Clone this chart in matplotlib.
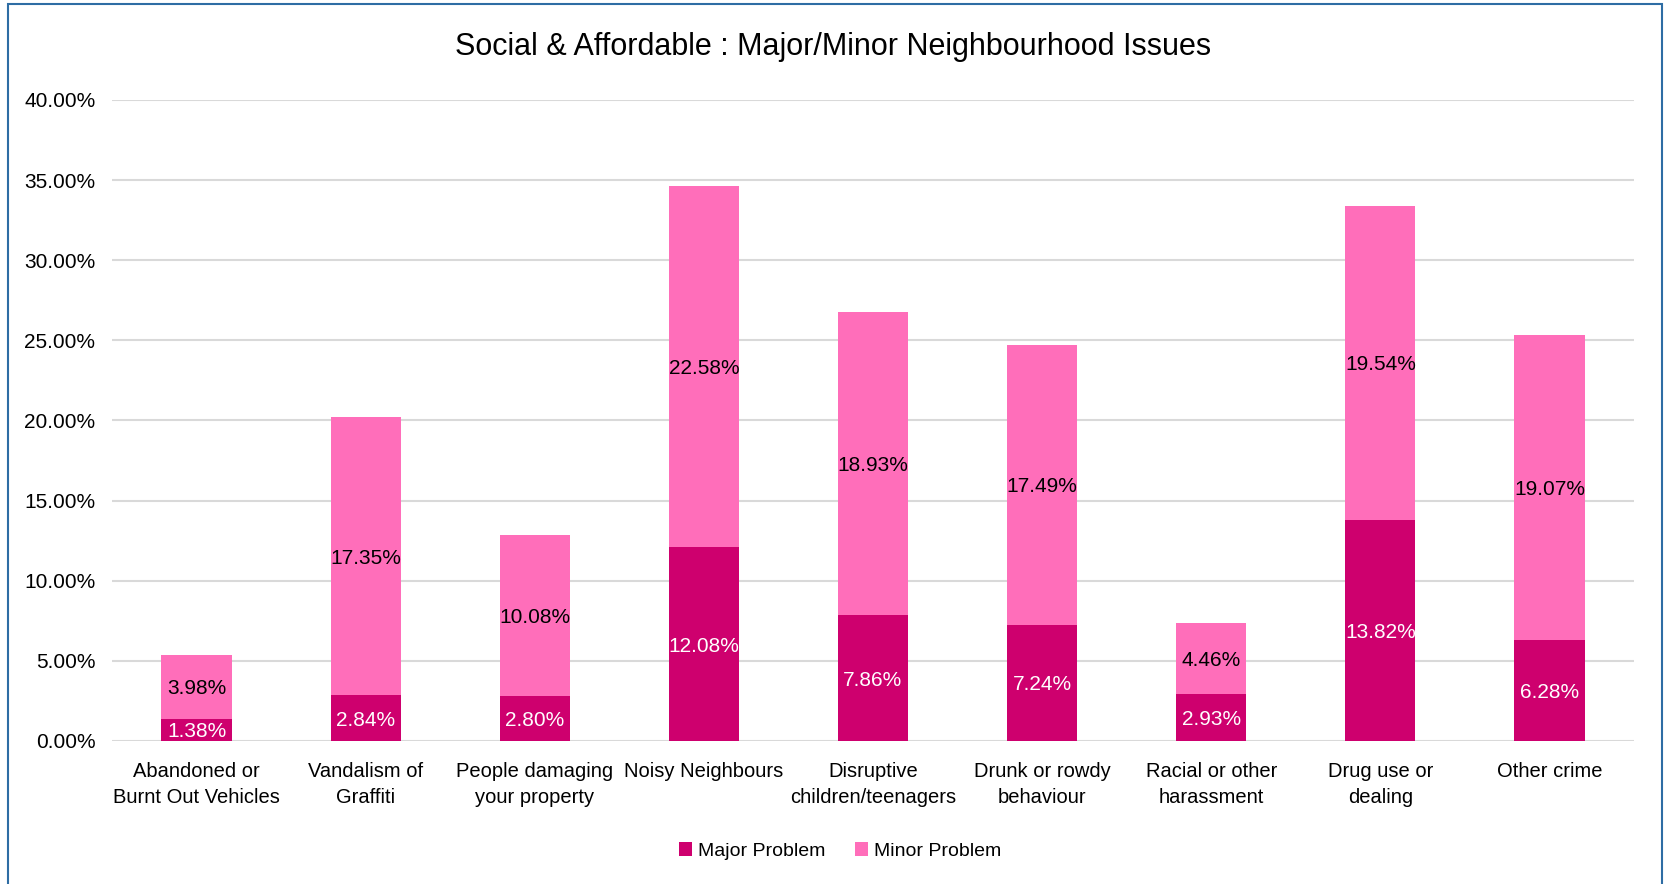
import matplotlib
matplotlib.use('Agg')
import matplotlib.pyplot as plt
from matplotlib.patches import Rectangle
from matplotlib.ticker import FuncFormatter
import numpy as np

plt.rcParams['font.family'] = ['Liberation Sans Narrow', 'Liberation Sans', 'DejaVu Sans']

categories = ['Abandoned or\nBurnt Out Vehicles', 'Vandalism of\nGraffiti',
              'People damaging\nyour property', 'Noisy Neighbours',
              'Disruptive\nchildren/teenagers', 'Drunk or rowdy\nbehaviour',
              'Racial or other\nharassment', 'Drug use or\ndealing', 'Other crime']
major = [1.38, 2.84, 2.80, 12.08, 7.86, 7.24, 2.93, 13.82, 6.28]
minor = [3.98, 17.35, 10.08, 22.58, 18.93, 17.49, 4.46, 19.54, 19.07]

major_col = '#CE006E'
minor_col = '#FF6EBA'

fig = plt.figure(figsize=(16.67, 8.84), dpi=100)
ax = fig.add_axes([112/1667, 1 - 741/884, (1634-112)/1667, (741-100)/884])

x = np.arange(len(categories))
w = 0.415
b1 = ax.bar(x, major, w, color=major_col, label='Major Problem', zorder=3)
b2 = ax.bar(x, minor, w, bottom=major, color=minor_col, label='Minor Problem', zorder=3)

for i in range(len(x)):
    ax.text(x[i], major[i] / 2, '%.2f%%' % major[i], ha='center', va='center_baseline',
            color='white', fontsize=15, zorder=4)
    ax.text(x[i], major[i] + minor[i] / 2, '%.2f%%' % minor[i], ha='center',
            va='center_baseline', color='black', fontsize=15, zorder=4)

ax.set_xlim(-0.5, len(x) - 0.5)
ax.set_ylim(0, 40)
ax.set_yticks(np.arange(0, 40.1, 5))
ax.yaxis.set_major_formatter(FuncFormatter(lambda v, p: '%.2f%%' % v))
ax.set_xticks(x)
ax.set_xticklabels(categories, fontsize=14.5, linespacing=1.45)
ax.tick_params(axis='y', labelsize=15, length=0, pad=12)
ax.tick_params(axis='x', length=0, pad=15)
ax.grid(axis='y', color='#D9D9D9', linewidth=1.5, zorder=0)
for s in ax.spines.values():
    s.set_visible(False)

fig.text(0.5, 1 - 47/884, 'Social & Affordable : Major/Minor Neighbourhood Issues',
         ha='center', va='center', fontsize=22)

fig.legend(handles=[b1, b2], loc='center', bbox_to_anchor=(0.504, 1 - 851/884),
           ncol=2, frameon=False, fontsize=14, handlelength=0.7, handleheight=0.7,
           handletextpad=0.3, columnspacing=1.5)

# outer frame
fig.patches.append(Rectangle((8/1667, -0.05), (1662-8)/1667, 1.05 - 4/884,
                             transform=fig.transFigure, fill=False,
                             edgecolor='#2E6DA4', linewidth=1.5))

fig.savefig('out.png', dpi=100)
